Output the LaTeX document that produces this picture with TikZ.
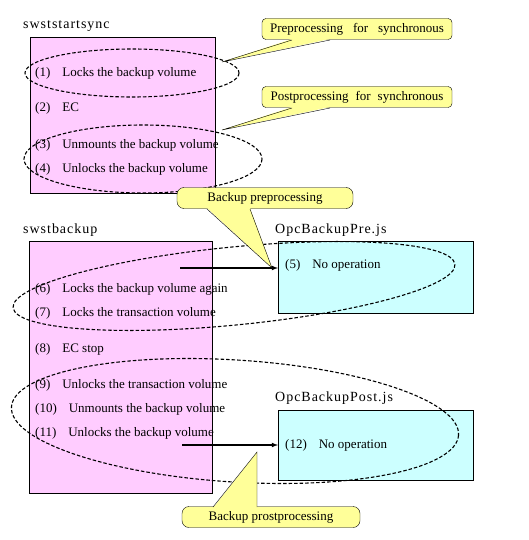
\documentclass[tikz,border=0pt]{standalone}
\usepackage{fontspec}
\setmainfont{Liberation Serif}
\newfontfamily\titlefont[LetterSpace=7]{Liberation Serif}
\usetikzlibrary{positioning}

\definecolor{pinkbox}{HTML}{FFCCFF}
\definecolor{cyanbox}{HTML}{CCFFFF}
\definecolor{notebox}{HTML}{FFFF99}

\tikzset{
  every node/.style={font=\fontsize{13}{15}\selectfont, inner sep=0pt},
  item/.style={anchor=west},
  title/.style={anchor=west, font=\titlefont\fontsize{14}{16}\selectfont},
  procbox/.style={draw, fill=pinkbox, anchor=north west},
  jsbox/.style={draw, fill=cyanbox, anchor=north west},
  group/.style={draw, line width=1.1pt, dash pattern=on 3.5pt off 2pt},
  note/.style={draw, fill=notebox, rounded corners=4pt, minimum height=21pt},
  tail/.style={fill=notebox},
}

\begin{document}
\begin{tikzpicture}[x=1pt, y=-1pt]
            \useasboundingbox (0, 0) rectangle (528, 540);
            % swststartsync
            \node[title] (sync) at (23, 26) {swststartsync};
            \node[procbox, minimum width=185pt, minimum height=156pt] (syncbox) at (30, 37) {};
            \node[item] (s1) at (35, 73) {(1)\hspace{12pt}Locks the backup volume};
            \node[item] (s2) at (35, 108) {(2)\hspace{12pt}EC};
            \node[item] (s3) at (35, 145) {(3)\hspace{12pt}Unmounts the backup volume};
            \node[item] (s4) at (35, 169) {(4)\hspace{12pt}Unlocks the backup volume};
            % swstbackup
            \node[title] (bak) at (23, 230) {swstbackup};
            \node[procbox, minimum width=183pt, minimum height=252pt] (bakbox) at (29, 241) {};
            \node[item] (b6) at (35, 289) {(6)\hspace{12pt}Locks the backup volume again};
            \node[item] (b7) at (35, 313) {(7)\hspace{12pt}Locks the transaction volume};
            \node[item] (b8) at (35, 349) {(8)\hspace{12pt}EC stop};
            \node[item] (b9) at (35, 385) {(9)\hspace{12pt}Unlocks the transaction volume};
            \node[item] (b10) at (35, 409) {(10)\hspace{12pt}Unmounts the backup volume};
            \node[item] (b11) at (35, 433) {(11)\hspace{12pt}Unlocks the backup volume};
            % OpcBackupPre.js
            \node[title] (pre) at (275, 230) {OpcBackupPre.js};
            \node[jsbox, minimum width=195pt, minimum height=72pt] (prebox) at (278, 241) {};
            \node[item] (p5) at (285, 265) {(5)\hspace{12pt}No operation};
            % OpcBackupPost.js
            \node[title] (post) at (275, 398) {OpcBackupPost.js};
            \node[jsbox, minimum width=195pt, minimum height=70pt] (postbox) at (278, 410) {};
            \node[item] (p12) at (285, 445) {(12)\hspace{12pt}No operation};
            % groups
            \draw[group] (132, 73) ellipse [x radius=107, y radius=24];
            \draw[group] (143, 159) ellipse [x radius=119, y radius=34];
            \draw[group, rotate around={5.6:(234, 286)}] (234, 286) ellipse [x radius=222, y radius=39];
            \draw[group, rotate around={-3.6:(235, 421)}] (235, 421) ellipse [x radius=224, y radius=61];
            % calls
            \coordinate (c5) at (180, 268);
            \draw[-latex, line width=1.1pt] (c5) -- (c5 -| prebox.west);
            \coordinate (c12) at (182, 445);
            \draw[-latex, line width=1.1pt] (c12) -- (c12 -| postbox.west);
            % notes
            \node[note, minimum width=190pt] (n1) at (357, 29) {Preprocessing\hspace{10pt}for\hspace{10pt}synchronous};
            \coordinate (t1) at (222, 62);
            \fill[tail] (292, 39) -- (t1) -- (330, 39) -- cycle;
            \draw (292, 40) -- (t1) -- (330, 40);
            \node[note, minimum width=190pt] (n2) at (357, 97) {Postprocessing\hspace{7pt}for\hspace{7pt}synchronous};
            \coordinate (t2) at (222, 130);
            \fill[tail] (292, 107) -- (t2) -- (330, 107) -- cycle;
            \draw (292, 108) -- (t2) -- (330, 108);
            \node[note, minimum width=176pt, rounded corners=7pt] (n3) at (265, 198) {Backup preprocessing\hspace{28pt}};
            \coordinate (t3) at (272, 268);
            \fill[tail] (207, 208) -- (t3) -- (250, 208) -- cycle;
            \draw (207, 209) -- (t3) -- (250, 209);
            \node[note, minimum width=178pt, rounded corners=7pt] (n4) at (271, 517) {Backup prostprocessing\hspace{6pt}};
            \coordinate (t4) at (257, 452);
            \fill[tail] (213, 508) -- (t4) -- (257, 508) -- cycle;
            \draw (213, 507) -- (t4) -- (257, 507);
        \end{tikzpicture}
\end{document}
